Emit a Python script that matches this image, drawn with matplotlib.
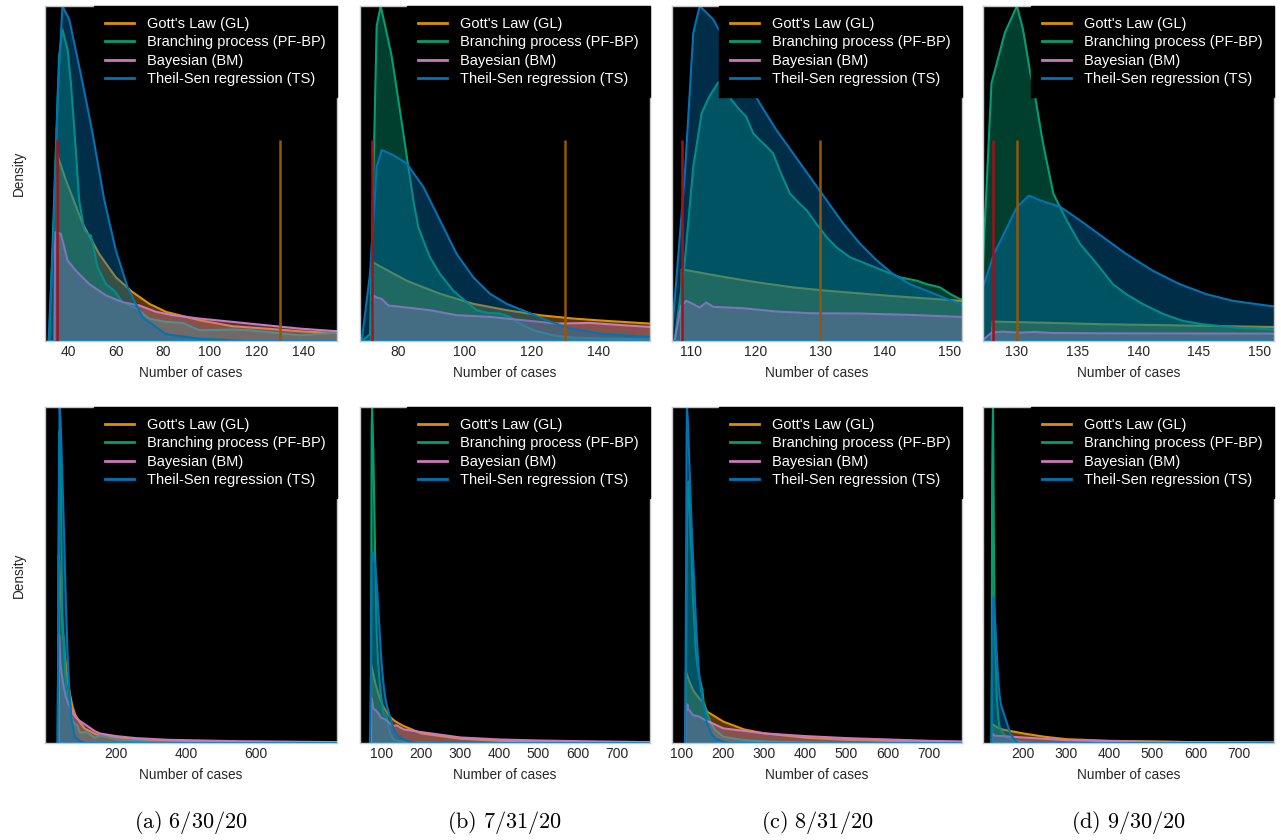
import matplotlib.pyplot as plt
from matplotlib.lines import Line2D
from matplotlib.colors import to_rgba

plt.rcParams['font.family'] = ['Liberation Sans', 'DejaVu Sans']
plt.rcParams['mathtext.fontset'] = 'cm'

# ---------------- datos (densidad normalizada) ----------------
fechas = ['6/30/20', '7/31/20', '8/31/20', '9/30/20']
letras = ['a', 'b', 'c', 'd']
metodos = ["Gott's Law (GL)", 'Branching process (PF-BP)', 'Bayesian (BM)', 'Theil-Sen regression (TS)']
colores = ['#de8f05', '#029e73', '#cc78bc', '#0173b2']
casos_actuales = [35, 72, 108.5, 128]
casos_ref = 130

# 6/30/20
gl_a_x = [34.9, 35.0, 38.9, 46.0, 53.0, 60.1, 67.2, 74.3, 81.4, 95.6, 109.8, 124.0, 138.2, 152.3, 200, 300, 400, 600, 840]
gl_a_y = [0, 0.56, 0.48, 0.35, 0.26, 0.19, 0.146, 0.111, 0.087, 0.062, 0.044, 0.037, 0.029, 0.024, 0.018, 0.009, 0.006, 0.003, 0.002]
bp_a_x = [31.8, 34.0, 36.0, 37.4, 39.6, 41.0, 43.1, 44.5, 46.7, 48.1, 49.5, 50.9, 52.3, 55.9, 59.4, 63.0, 68.7, 74.3,
          81.4, 88.5, 95.6, 109.8, 116.9, 124.0, 138.2, 152.3, 200, 300, 400, 600, 840]
bp_a_y = [0, 0.45, 0.85, 0.93, 0.87, 0.77, 0.57, 0.42, 0.33, 0.32, 0.315, 0.27, 0.22, 0.17, 0.15, 0.116, 0.097, 0.067,
          0.057, 0.054, 0.032, 0.034, 0.032, 0.027, 0.017, 0.024, 0.012, 0.005, 0.002, 0.001, 0.0005]
bm_a_x = [34.0, 34.3, 36.7, 38.2, 39.6, 43.1, 48.8, 55.9, 63.0, 70.1, 77.2, 84.3, 95.6, 109.8, 124.0, 138.2, 152.3,
          200, 256, 350, 541, 840]
bm_a_y = [0, 0.325, 0.32, 0.28, 0.24, 0.21, 0.17, 0.136, 0.116, 0.106, 0.087, 0.077, 0.067, 0.057, 0.047, 0.037, 0.03,
          0.022, 0.016, 0.011, 0.007, 0.004]
ts_a_x = [31.5, 33.5, 35.5, 37.4, 40.3, 44.5, 47.4, 50.2, 55.2, 60.1, 65.1, 71.5, 81.4, 95.6, 115, 840]
ts_a_y = [0, 0.3, 0.75, 1.0, 0.96, 0.82, 0.72, 0.62, 0.42, 0.27, 0.16, 0.07, 0.02, 0.007, 0.0, 0.0]

# 7/31/20
gl_b_x = [72, 72.1, 82.5, 92.5, 102.5, 112.5, 122.5, 132.5, 142.5, 155.5, 200, 300, 400, 500, 785]
gl_b_y = [0, 0.236, 0.18, 0.141, 0.111, 0.092, 0.077, 0.067, 0.06, 0.052, 0.03, 0.014, 0.008, 0.005, 0.003]
bp_b_x = [69, 71.5, 73.5, 74.7, 76.5, 78, 80, 81.5, 83, 84.5, 86, 87.5, 89.5, 92.5, 96.5, 100.5, 103.5, 106.5, 110.5,
          113.5, 116.5, 120.5, 126.5, 132.5, 142.5, 160, 200, 300, 785]
bp_b_y = [0, 0.02, 0.94, 1.0, 0.92, 0.85, 0.72, 0.62, 0.52, 0.42, 0.34, 0.30, 0.25, 0.20, 0.15, 0.116, 0.092, 0.084,
          0.082, 0.072, 0.052, 0.032, 0.017, 0.01, 0.007, 0.004, 0.002, 0.001, 0.0]
bm_b_x = [72, 72.5, 73.5, 75, 77, 82.5, 89.5, 97.5, 107.5, 117.5, 127.5, 137.5, 147.5, 155.5, 200, 250, 300, 400, 500,
          600, 785]
bm_b_y = [0, 0.136, 0.13, 0.126, 0.106, 0.1, 0.092, 0.077, 0.072, 0.062, 0.052, 0.054, 0.047, 0.042, 0.034, 0.026,
          0.018, 0.012, 0.009, 0.007, 0.004]
ts_b_x = [69, 71.5, 73.5, 75, 78.5, 82.5, 87.5, 92.5, 97.5, 102.5, 107.5, 112.5, 118.5, 124.5, 131.5, 140.5, 155, 175,
          200, 785]
ts_b_y = [0, 0.2, 0.52, 0.57, 0.555, 0.53, 0.46, 0.36, 0.26, 0.19, 0.141, 0.111, 0.087, 0.062, 0.037, 0.022, 0.012,
          0.004, 0.0, 0.0]

# 8/31/20
gl_c_x = [108.4, 108.5, 115.4, 120.6, 125.8, 131, 136.2, 141.3, 146.5, 151.7, 160, 200, 250, 300, 400, 500, 600, 700, 781]
gl_c_y = [0, 0.214, 0.19, 0.174, 0.16, 0.15, 0.142, 0.134, 0.127, 0.12, 0.095, 0.065, 0.042, 0.03, 0.017, 0.011,
          0.008, 0.005, 0.004]
bp_c_x = [107.4, 109, 110.3, 111.6, 112.8, 114.1, 115.2, 116.2, 117.5, 118.5, 119.6, 120.6, 121.7, 122.7, 123.7, 125.3,
          126.8, 127.9, 129.4, 131, 132.5, 134.6, 137.2, 139.8, 142.4, 145, 146.5, 148.6, 150.2, 151.7, 160, 170, 180,
          200, 250, 300, 400, 600, 781]
bp_c_y = [0, 0.24, 0.52, 0.68, 0.73, 0.77, 0.78, 0.72, 0.69, 0.67, 0.62, 0.60, 0.58, 0.56, 0.51, 0.44, 0.41, 0.39,
          0.35, 0.31, 0.28, 0.25, 0.23, 0.21, 0.19, 0.18, 0.17, 0.16, 0.14, 0.125, 0.09, 0.06, 0.04, 0.02, 0.01, 0.006,
          0.003, 0.001, 0.0]
bm_c_x = [107.4, 108.4, 109.2, 110.3, 111.3, 112.3, 113.4, 118, 123.2, 128.4, 136.2, 143.9, 151.7, 200, 300, 400, 500,
          600, 700, 781]
bm_c_y = [0, 0.105, 0.12, 0.11, 0.1, 0.115, 0.102, 0.098, 0.088, 0.083, 0.082, 0.078, 0.072, 0.045, 0.03, 0.022,
          0.016, 0.012, 0.008, 0.006]
ts_c_x = [106.9, 109, 110.3, 111.3, 113.4, 115.4, 118, 120.6, 123.2, 125.8, 128.4, 131, 133.6, 136.2, 138.8, 141.3,
          143.9, 146.5, 149.1, 151.7, 160, 170, 180, 200, 220, 781]
ts_c_y = [0, 0.5, 0.92, 1.0, 0.96, 0.89, 0.80, 0.71, 0.63, 0.56, 0.49, 0.42, 0.35, 0.29, 0.24, 0.20, 0.17, 0.15, 0.13,
          0.11, 0.06, 0.03, 0.015, 0.005, 0.0, 0.0]

# 9/30/20
gl_d_x = [127.9, 128.0, 131.7, 137.2, 142.6, 150.8, 200, 250, 300, 400, 600, 782]
gl_d_y = [0, 0.058, 0.055, 0.05, 0.047, 0.042, 0.03, 0.02, 0.013, 0.008, 0.004, 0.003]
bp_d_x = [126.6, 127.1, 127.9, 129, 130, 130.5, 131.1, 131.5, 132.1, 133, 134.1, 135.2, 136.6, 137.9, 139, 140.4,
          142.1, 143.7, 145.3, 148.1, 150.8, 160, 180, 200, 250, 782]
bp_d_y = [0, 0.16, 0.77, 0.92, 1.0, 0.93, 0.8, 0.73, 0.6, 0.44, 0.36, 0.29, 0.23, 0.17, 0.14, 0.11, 0.08, 0.06, 0.05,
          0.04, 0.035, 0.02, 0.008, 0.003, 0.0, 0.0]
bm_d_x = [127.1, 127.9, 128.8, 130.1, 131.5, 132.8, 136.9, 150.8, 200, 300, 400, 600, 782]
bm_d_y = [0, 0.025, 0.028, 0.025, 0.027, 0.024, 0.023, 0.022, 0.018, 0.01, 0.007, 0.004, 0.003]
ts_d_x = [126.6, 127.1, 128.1, 129.2, 130, 131, 131.9, 133.6, 135.2, 137.1, 139, 141.2, 143.4, 145.6, 147.8, 150.8,
          160, 170, 180, 190, 782]
ts_d_y = [0.0, 0.15, 0.26, 0.34, 0.40, 0.434, 0.42, 0.40, 0.36, 0.31, 0.26, 0.21, 0.17, 0.14, 0.12, 0.105, 0.07,
          0.03, 0.01, 0.0, 0.0]

curvas = [
    [(gl_a_x, gl_a_y), (bp_a_x, bp_a_y), (bm_a_x, bm_a_y), (ts_a_x, ts_a_y)],
    [(gl_b_x, gl_b_y), (bp_b_x, bp_b_y), (bm_b_x, bm_b_y), (ts_b_x, ts_b_y)],
    [(gl_c_x, gl_c_y), (bp_c_x, bp_c_y), (bm_c_x, bm_c_y), (ts_c_x, ts_c_y)],
    [(gl_d_x, gl_d_y), (bp_d_x, bp_d_y), (bm_d_x, bm_d_y), (ts_d_x, ts_d_y)],
]

ticks_arriba = [[40, 60, 80, 100, 120, 140], [80, 100, 120, 140], [110, 120, 130, 140, 150], [130, 135, 140, 145, 150]]
ticks_abajo = [[200, 400, 600], [100, 200, 300, 400, 500, 600, 700], [100, 200, 300, 400, 500, 600, 700],
               [200, 300, 400, 500, 600, 700]]
lim_arriba = [(30, 154), (68.5, 155.5), (107, 152), (127.2, 151.2)]
lim_abajo = [(-3, 833), (45, 785), (76, 781), (108, 782)]

# ---------------- figura ----------------
W, H = 1281, 840
fig = plt.figure(figsize=(W / 100, H / 100), dpi=100)
izq = [45, 360, 672, 983]
ancho = [292, 290, 290, 291]
filas = [(6, 341), (407, 743)]

def panel(ax, datos, xlim, ticks, lineas):
    ax.set_facecolor('black')
    for (x, y), c in zip(datos, colores):
        ax.fill_between(x, y, facecolor=to_rgba(c, 0.4), edgecolor=c, linewidth=1.5)
    if lineas is not None:
        ax.vlines(lineas[0], 0, 0.6, color='#a3101a', linewidth=1.8, zorder=5)
        ax.vlines(casos_ref, 0, 0.6, color='#94560a', linewidth=1.8, zorder=5)
    ax.set_xlim(*xlim)
    ax.set_ylim(0, 1.0)
    ax.set_xticks(ticks)
    ax.set_yticks([])
    ax.tick_params(axis='x', length=0, pad=3, labelsize=10, labelcolor='#262626')
    for s in ax.spines.values():
        s.set_color('#c8c8c8')
        s.set_linewidth(1)
    ax.set_xlabel('Number of cases', fontsize=9.8, color='#262626', labelpad=5)
    handles = [Line2D([0], [0], color=c, lw=2) for c in colores]
    leg = ax.legend(handles, metodos, loc='upper right', fontsize=10.5, frameon=True, fancybox=False,
                    facecolor='black', edgecolor='black', framealpha=1, borderaxespad=0, borderpad=0.75,
                    labelspacing=0.3, handlelength=2.0, handletextpad=0.9)
    for t in leg.get_texts():
        t.set_color('white')
    leg.set_zorder(10)

for i in range(4):
    for f, (top, bot) in enumerate(filas):
        ax = fig.add_axes([izq[i] / W, 1 - bot / H, ancho[i] / W, (bot - top) / H])
        if f == 0:
            panel(ax, curvas[i], lim_arriba[i], ticks_arriba[i], (casos_actuales[i],))
        else:
            panel(ax, curvas[i], lim_abajo[i], ticks_abajo[i], None)
        if i == 0:
            ax.set_ylabel('Density', fontsize=9.8, color='#262626', labelpad=14)
    cx = (izq[i] + ancho[i] / 2) / W
    fig.text(cx, 1 - 823 / H, r'$\mathrm{(%s)\ %s}$' % (letras[i], fechas[i]), ha='center', va='center', fontsize=16)

plt.savefig('out.png', dpi=100)
